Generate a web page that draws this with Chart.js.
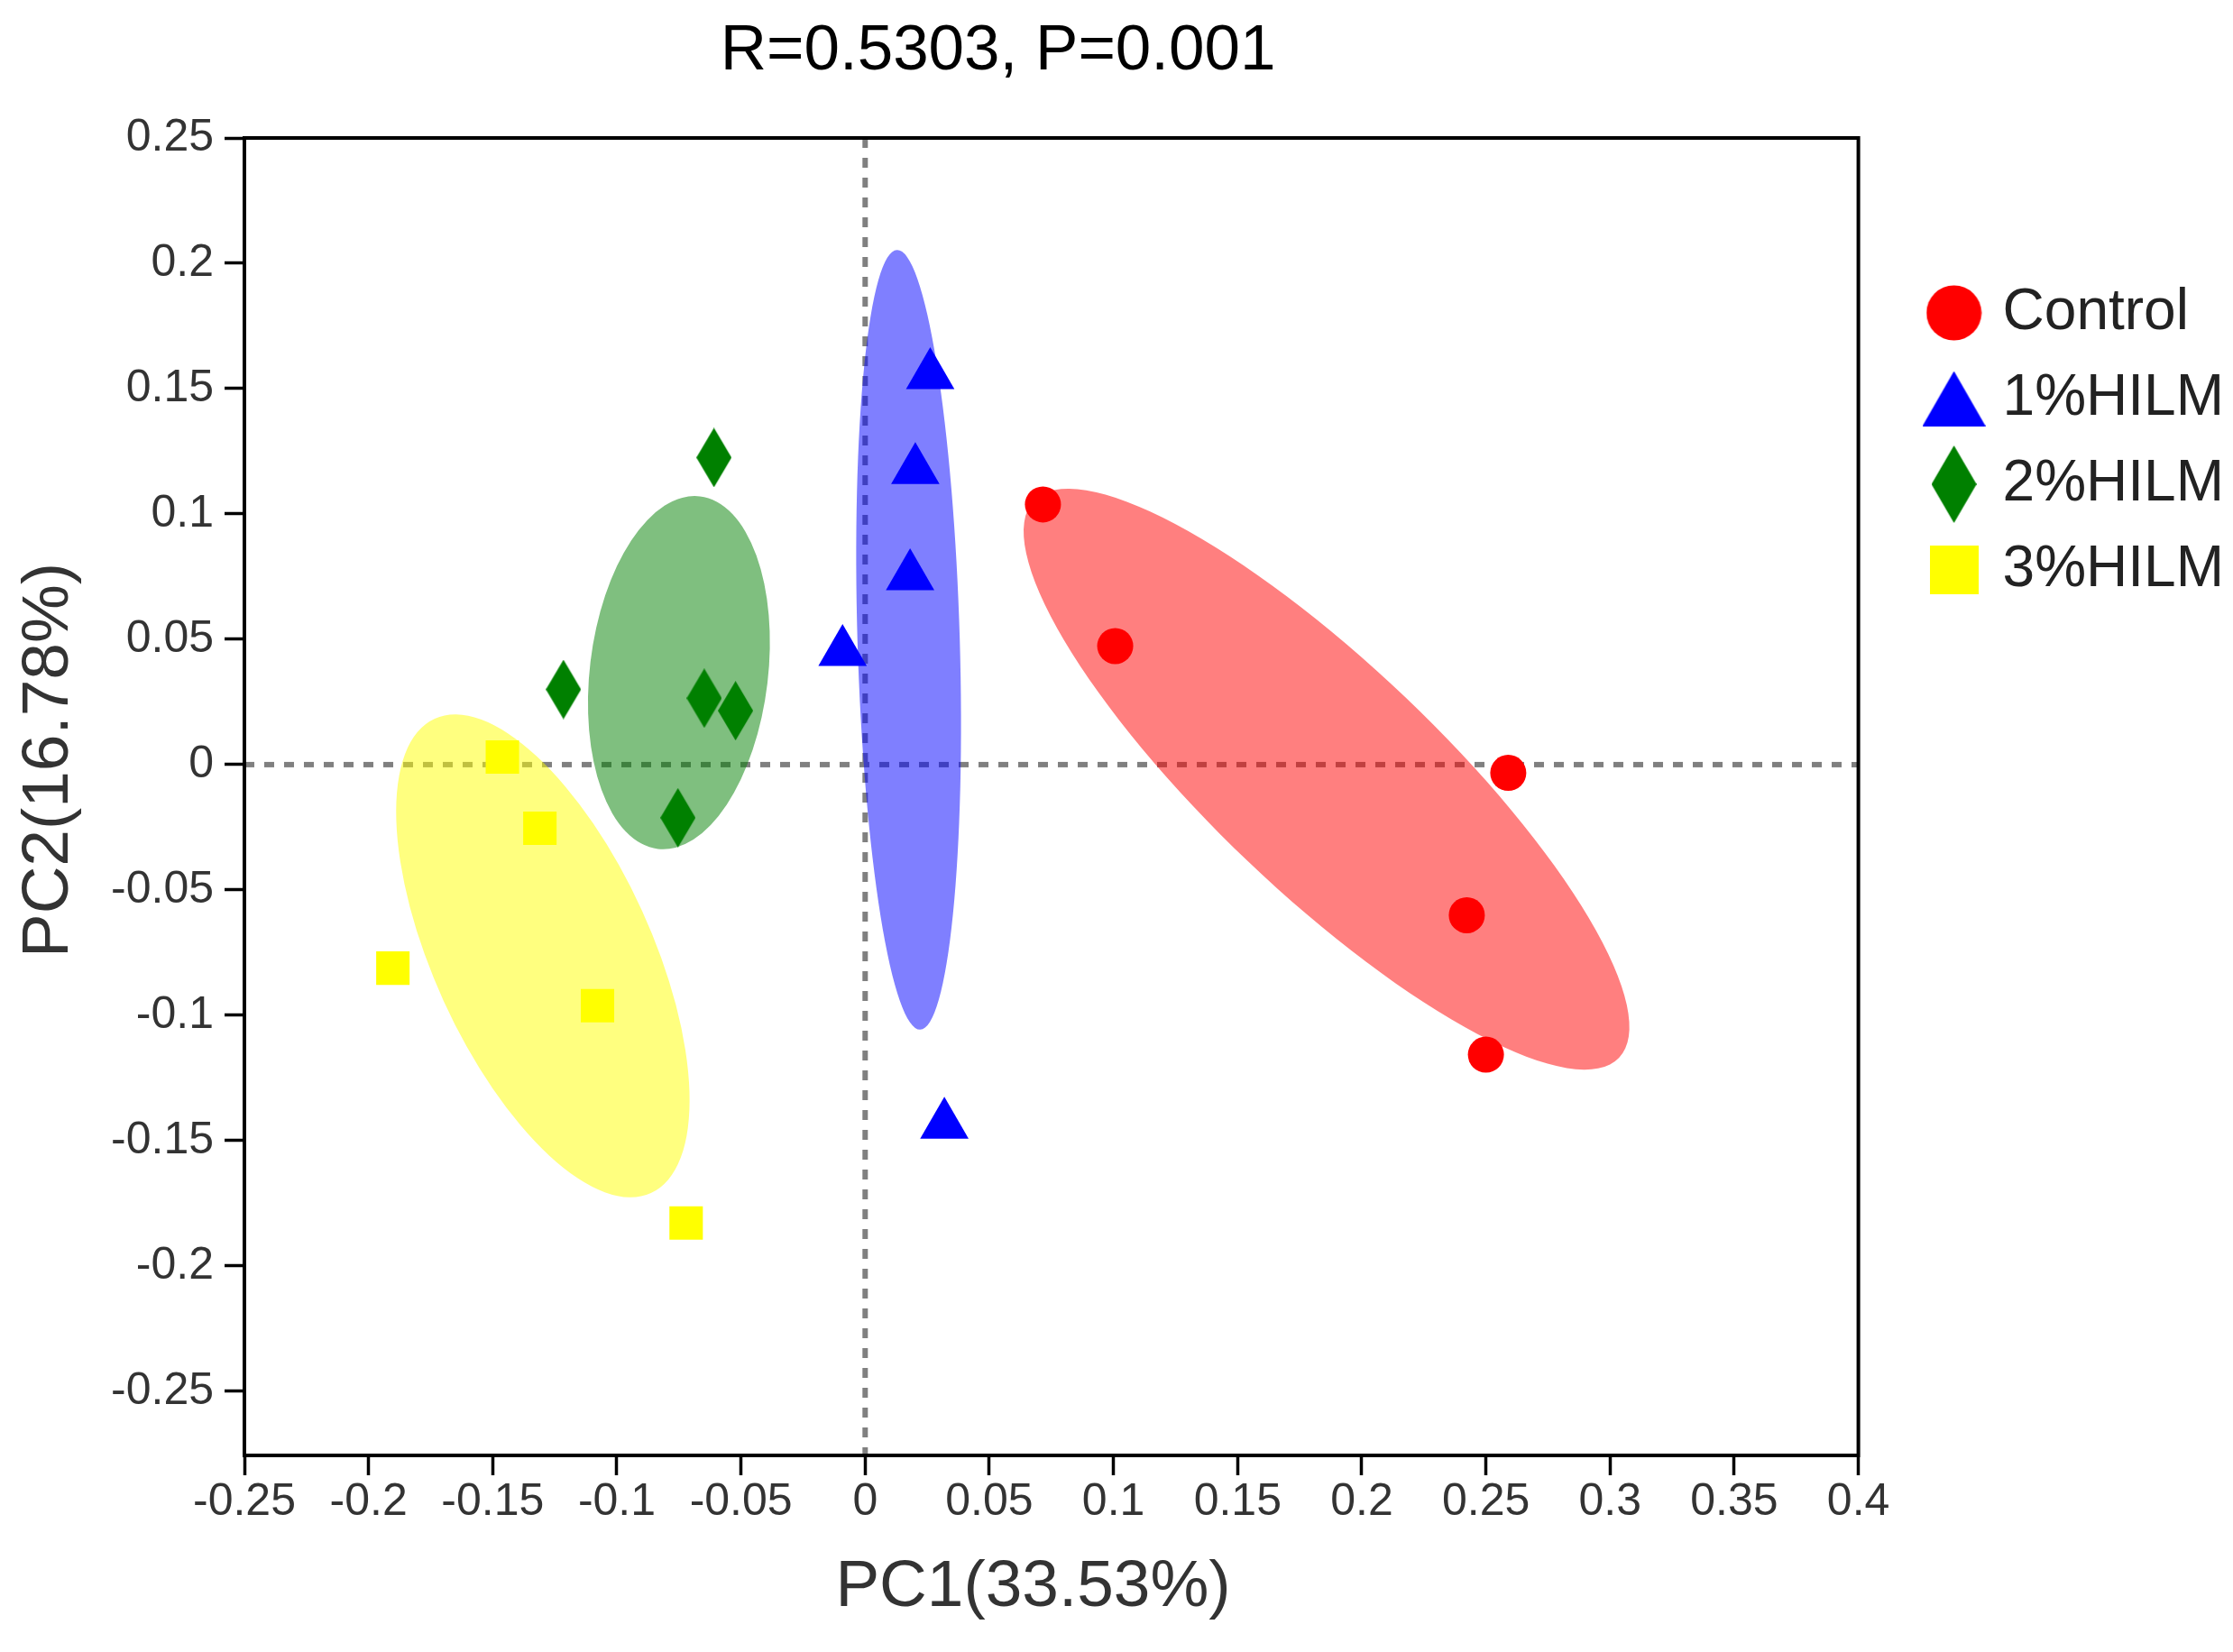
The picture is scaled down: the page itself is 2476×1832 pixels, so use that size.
<!DOCTYPE html>
<html>
<head>
<meta charset="utf-8">
<script src="https://cdn.jsdelivr.net/npm/chart.js@4/dist/chart.umd.min.js"></script>
<style>
html, body { margin: 0; padding: 0; background: #ffffff; }
#wrap { width: 2476px; height: 1832px; }
</style>
</head>
<body>
<div id="wrap"><canvas id="c" width="2476" height="1832"></canvas></div>
<script>
// ---------------- data ----------------
const groupNames = ['Control', '1%HILM', '2%HILM', '3%HILM'];

const controlX = [0.0716, 0.1007, 0.2590, 0.2423, 0.2500];
const controlY = [0.1038, 0.0473, -0.0033, -0.0601, -0.1157];

const hilm1X = [0.0262, 0.0202, 0.0181, -0.0091, 0.0319];
const hilm1Y = [0.1554, 0.1175, 0.0752, 0.0449, -0.1437];

const hilm2X = [-0.0609, -0.1215, -0.0648, -0.0522, -0.0754];
const hilm2Y = [0.1225, 0.0300, 0.0265, 0.0215, -0.0212];

const hilm3X = [-0.1461, -0.1310, -0.1902, -0.1078, -0.0721];
const hilm3Y = [0.0030, -0.0254, -0.0812, -0.0962, -0.1829];

// confidence ellipses (data units, angle in degrees counter-clockwise)
const ellipseCX = [0.1858, 0.0175, -0.0750, -0.1298];
const ellipseCY = [-0.0058, 0.0498, 0.0367, -0.0763];
const ellipseA = [0.1627, 0.1571, 0.0715, 0.1050];
const ellipseB = [0.0458, 0.0206, 0.0359, 0.0439];
const ellipseAngle = [-43.6, -88.3, 83.2, -65.5];

const xTickValues = [-0.25, -0.2, -0.15, -0.1, -0.05, 0, 0.05, 0.1, 0.15, 0.2, 0.25, 0.3, 0.35, 0.4];
const xTickLabels = ['-0.25', '-0.2', '-0.15', '-0.1', '-0.05', '0', '0.05', '0.1', '0.15', '0.2', '0.25', '0.3', '0.35', '0.4'];
const yTickValues = [-0.25, -0.2, -0.15, -0.1, -0.05, 0, 0.05, 0.1, 0.15, 0.2, 0.25];
const yTickLabels = ['-0.25', '-0.2', '-0.15', '-0.1', '-0.05', '0', '0.05', '0.1', '0.15', '0.2', '0.25'];

const titleText = 'R=0.5303, P=0.001';
const xTitle = 'PC1(33.53%)';
const yTitle = 'PC2(16.78%)';

// ---------------- styles ----------------
const pointColors = ['#FF0000', '#0000FF', '#008000', '#FFFF00'];
const ellipseColors = ['rgba(255,0,0,0.5)', 'rgba(0,0,255,0.5)', 'rgba(0,128,0,0.5)', 'rgba(255,255,0,0.5)'];
const FONT = "'Liberation Sans', Arial, Helvetica, sans-serif";

function makeCanvas(w, h, draw) {
  const c = document.createElement('canvas');
  c.width = w; c.height = h;
  const g = c.getContext('2d');
  draw(g, w, h);
  return c;
}
function diamond(w, h, color) {
  return makeCanvas(w, h, (g) => {
    g.fillStyle = color; g.beginPath();
    g.moveTo(w / 2, 0); g.lineTo(w, h / 2); g.lineTo(w / 2, h); g.lineTo(0, h / 2);
    g.closePath(); g.fill();
  });
}
const plotDiamond = diamond(39, 66, pointColors[2]);
const legendMarkers = [
  makeCanvas(62, 62, (g) => { g.fillStyle = pointColors[0]; g.beginPath(); g.arc(31, 31, 30.5, 0, Math.PI * 2); g.fill(); }),
  makeCanvas(70, 61, (g) => { g.fillStyle = pointColors[1]; g.beginPath(); g.moveTo(35, 0); g.lineTo(70, 61); g.lineTo(0, 61); g.closePath(); g.fill(); }),
  diamond(50, 86, pointColors[2]),
  makeCanvas(54, 54, (g) => { g.fillStyle = pointColors[3]; g.fillRect(0, 0, 54, 54); })
];

function toPoints(xs, ys) { return xs.map((v, i) => ({ x: v, y: ys[i] })); }

// ---------------- plugins ----------------
const backgroundLayer = {
  id: 'backgroundLayer',
  beforeDatasetsDraw(chart) {
    const { ctx, chartArea: ca, scales } = chart;
    const x = scales.x, y = scales.y;
    ctx.save();
    ctx.beginPath(); ctx.rect(ca.left, ca.top, ca.width, ca.height); ctx.clip();
    // zero reference lines
    ctx.strokeStyle = '#808080'; ctx.lineWidth = 6; ctx.setLineDash([11, 11]);
    const x0 = x.getPixelForValue(0), y0 = y.getPixelForValue(0);
    ctx.beginPath(); ctx.moveTo(x0, ca.top); ctx.lineTo(x0, ca.bottom); ctx.stroke();
    ctx.beginPath(); ctx.moveTo(ca.left, y0); ctx.lineTo(ca.right, y0); ctx.stroke();
    ctx.setLineDash([]);
    // group ellipses
    const kx = Math.abs(x.getPixelForValue(1) - x.getPixelForValue(0));
    for (let i = 0; i < ellipseCX.length; i++) {
      ctx.beginPath();
      ctx.ellipse(x.getPixelForValue(ellipseCX[i]), y.getPixelForValue(ellipseCY[i]),
        ellipseA[i] * kx, ellipseB[i] * kx, -ellipseAngle[i] * Math.PI / 180, 0, Math.PI * 2);
      ctx.fillStyle = ellipseColors[i];
      ctx.fill();
    }
    ctx.restore();
  }
};
const frameBox = {
  id: 'frameBox',
  afterDraw(chart) {
    const { ctx, chartArea: ca } = chart;
    ctx.save();
    ctx.strokeStyle = '#000'; ctx.lineWidth = 4;
    ctx.strokeRect(ca.left, ca.top, ca.width, ca.height);
    ctx.restore();
  }
};

Chart.defaults.font.family = FONT;

new Chart(document.getElementById('c'), {
  type: 'scatter',
  data: {
    datasets: [
      { label: groupNames[0], data: toPoints(controlX, controlY), pointStyle: 'circle', pointRadius: 20, pointHoverRadius: 20,
        backgroundColor: pointColors[0], borderColor: pointColors[0], borderWidth: 0 },
      { label: groupNames[1], data: toPoints(hilm1X, hilm1Y), pointStyle: 'triangle', pointRadius: 31, pointHoverRadius: 31,
        backgroundColor: pointColors[1], borderColor: pointColors[1], borderWidth: 0 },
      { label: groupNames[2], data: toPoints(hilm2X, hilm2Y), pointStyle: plotDiamond, pointRadius: 20, pointHoverRadius: 20,
        backgroundColor: pointColors[2], borderColor: pointColors[2], borderWidth: 0 },
      { label: groupNames[3], data: toPoints(hilm3X, hilm3Y), pointStyle: 'rect', pointRadius: 26.2, pointHoverRadius: 26.2,
        backgroundColor: pointColors[3], borderColor: pointColors[3], borderWidth: 0 }
    ]
  },
  options: {
    responsive: false,
    animation: false,
    devicePixelRatio: 1,
    layout: { padding: 0 },
    plugins: {
      title: {
        display: true, text: titleText + '      ', fullSize: false, color: '#000',
        font: { size: 71, weight: 'normal', lineHeight: 1.2 },
        padding: { top: 14.4, bottom: 53.4 }
      },
      legend: {
        display: true, position: 'right', align: 'start', fullSize: false,
        title: { display: true, text: ' ', font: { size: 10, lineHeight: 1.2 }, padding: { top: 119, bottom: 0 } },
        labels: {
          usePointStyle: true, boxWidth: 44, boxHeight: 44, padding: 31, color: '#222',
          font: { size: 64 },
          generateLabels(chart) {
            return chart.data.datasets.map((ds, i) => ({
              text: ds.label, fillStyle: pointColors[i], strokeStyle: pointColors[i], lineWidth: 0,
              pointStyle: legendMarkers[i], rotation: 0, hidden: false, datasetIndex: i, fontColor: '#222'
            }));
          }
        }
      },
      tooltip: { enabled: false }
    },
    scales: {
      x: {
        type: 'linear', position: 'bottom', min: -0.25, max: 0.4, offset: false,
        afterBuildTicks(scale) { scale.ticks = xTickValues.map(v => ({ value: v })); },
        afterFit(scale) { scale.height = 218; },
        ticks: { autoSkip: false, maxRotation: 0, padding: 0, color: '#333', font: { size: 50 },
          callback: (v, i) => xTickLabels[i] },
        grid: { display: true, drawOnChartArea: false, drawTicks: true, tickLength: 22, tickWidth: 3.5, tickColor: '#000', color: '#000' },
        border: { display: true, color: '#000', width: 4 },
        title: { display: true, text: xTitle + '  ', color: '#333', font: { size: 73, lineHeight: 1.2 }, padding: { top: 21, bottom: 27 } }
      },
      y: {
        type: 'linear', position: 'left', min: -0.2756, max: 0.25,
        afterBuildTicks(scale) { scale.ticks = yTickValues.map(v => ({ value: v })); },
        afterFit(scale) { scale.width = 271; },
        ticks: { autoSkip: false, padding: 12, color: '#333', font: { size: 50 },
          callback: (v, i) => yTickLabels[i] },
        grid: { display: true, drawOnChartArea: false, drawTicks: true, tickLength: 22, tickWidth: 3.5, tickColor: '#000', color: '#000' },
        border: { display: true, color: '#000', width: 4 },
        title: { display: true, text: '    ' + yTitle, color: '#333', font: { size: 73, lineHeight: 1.2 }, padding: { top: 11.2, bottom: 24 } }
      },
      spacer: {
        type: 'linear', position: 'right', display: true,
        ticks: { display: false }, grid: { display: false }, border: { display: false },
        afterFit(scale) { scale.width = 53; }
      }
    }
  },
  plugins: [backgroundLayer, frameBox]
});
</script>
</body>
</html>
